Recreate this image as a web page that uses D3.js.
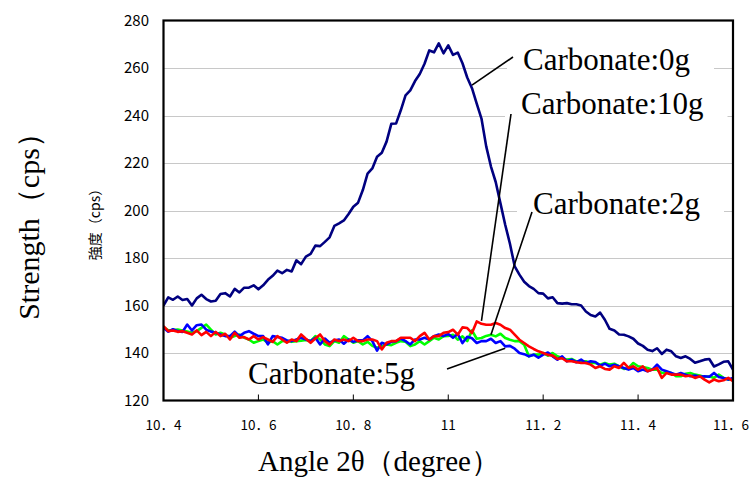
<!DOCTYPE html>
<html>
<head>
<meta charset="utf-8">
<script src="https://cdn.jsdelivr.net/npm/d3@7"></script>
<style>
  html, body { margin: 0; padding: 0; background: #fff; }
  svg { display: block; }
</style>
</head>
<body>
<svg id="chart" width="750" height="477"></svg>
<script>
// Scan: 2θ from 10.40° to 11.60° in 0.01° steps
const angleStart = 10.4;
const angleStep = 0.01;

// Intensity (cps) for each carbonate loading
const carbonate0g = [
  160.0,163.4,162.4,163.8,162.3,162.7,160.0,163.0,164.5,162.7,
  161.7,162.0,164.8,165.2,163.8,167.0,165.5,167.5,167.5,168.5,
  166.8,168.5,170.8,172.5,174.7,173.6,175.0,174.3,179.0,177.4,
  180.6,181.7,185.2,185.0,186.8,188.7,193.5,194.6,195.8,198.5,
  201.6,203.3,208.6,215.5,217.7,222.6,224.3,229.0,236.5,236.6,
  242.2,248.5,250.6,254.5,257.5,261.8,267.4,266.6,270.4,266.2,
  269.5,265.5,266.5,262.0,256.0,251.5,245.0,238.7,227.0,218.5,
  212.0,203.0,194.0,186.0,176.5,173.0,170.0,168.2,167.0,165.2,
  165.0,163.0,163.5,161.0,160.8,161.0,160.5,160.5,160.0,157.5,
  156.0,155.4,157.0,154.0,150.2,149.5,147.8,147.7,147.0,146.0,
  144.0,143.0,141.4,140.8,142.0,139.6,141.4,140.7,138.6,137.9,
  138.6,137.5,135.9,136.5,137.2,137.5,134.3,135.2,136.3,136.5,
  133.0
];

const carbonate2g = [
  150.9,149.5,149.7,149.9,149.5,149.0,148.5,149.2,150.6,152.0,
  149.8,147.8,148.5,147.8,146.4,147.1,147.8,146.4,145.7,144.3,
  145.0,145.7,144.3,145.0,143.6,145.0,145.2,144.7,145.0,145.2,
  145.5,145.0,147.1,145.7,143.6,142.9,145.0,144.3,147.1,145.7,
  144.3,145.0,143.6,144.7,143.0,142.2,142.9,143.6,143.3,144.3,
  145.0,144.7,142.9,143.6,145.0,143.6,145.0,146.4,145.7,147.1,
  147.2,147.7,145.6,147.0,145.0,149.5,146.0,146.3,147.2,147.7,
  147.0,148.1,146.3,145.6,145.0,145.0,143.5,138.6,139.3,139.3,
  140.0,138.9,140.0,138.6,137.9,137.2,137.5,136.5,136.5,136.5,
  135.8,135.8,135.1,135.8,135.1,135.5,134.4,133.3,133.7,135.8,
  134.4,134.1,133.7,133.0,133.0,131.6,131.9,131.6,130.2,130.2,
  131.3,131.6,130.9,130.5,129.9,130.2,129.5,130.9,129.5,128.8,
  129.0
];

const carbonate5g = [
  150.6,149.0,150.0,149.2,148.9,152.0,149.5,151.7,152.0,149.8,
  149.0,148.5,147.8,147.1,147.1,149.0,147.1,148.5,149.2,148.1,
  147.1,147.1,143.6,147.1,146.7,146.4,145.3,145.0,145.7,146.4,
  145.7,145.0,146.4,143.6,146.1,144.3,145.3,145.7,143.9,145.7,
  144.7,145.3,145.3,147.1,145.0,141.0,144.3,143.6,144.7,145.0,
  146.1,145.0,143.6,145.7,145.7,146.4,145.7,147.1,147.8,147.1,
  148.0,146.4,148.0,144.2,146.8,146.2,144.2,145.0,145.0,146.0,
  144.2,145.0,142.8,143.0,141.8,140.0,139.5,138.6,139.3,138.0,
  139.3,140.2,138.6,137.2,138.6,136.5,137.2,136.1,137.2,135.8,
  136.5,136.2,134.7,135.5,134.4,135.1,134.4,133.7,133.0,133.7,
  132.3,133.0,132.3,133.0,135.1,133.0,132.3,131.6,130.9,131.6,
  130.9,130.2,130.5,130.0,130.2,130.0,131.6,129.9,129.5,128.8,
  129.5
];

const carbonate10g = [
  151.3,149.2,149.5,148.9,149.2,148.5,147.8,149.5,147.5,148.9,
  147.1,148.9,147.1,148.1,145.7,148.5,146.4,146.7,145.7,147.1,
  145.7,146.7,145.7,144.7,147.1,145.7,144.3,145.7,145.0,147.8,
  146.0,144.3,146.1,147.8,145.0,143.5,145.7,145.0,145.7,145.0,
  146.4,145.0,145.0,145.7,145.7,145.0,141.5,144.3,145.0,145.0,
  146.4,146.4,146.4,145.0,147.1,148.5,145.7,147.1,147.1,148.5,
  148.8,149.8,147.7,150.8,150.5,148.4,153.3,152.3,151.9,151.9,
  152.6,151.9,150.5,149.8,147.7,145.6,144.2,142.8,141.7,140.7,
  140.0,139.2,138.9,137.5,137.8,136.5,136.5,136.1,135.8,135.8,
  135.1,133.7,134.4,133.3,133.0,134.4,133.7,135.8,133.7,134.4,
  133.0,134.4,132.3,133.0,133.7,129.5,131.6,130.9,130.9,130.9,
  130.2,130.5,129.5,130.2,128.8,127.6,128.8,128.1,128.5,129.5,
  128.1
];

// Axis ticks
const xTicks = [10.4, 10.6, 10.8, 11.0, 11.2, 11.4, 11.6];
const xTickLabels = ["10．4", "10．6", "10．8", "11", "11．2", "11．4", "11．6"];
const yTicks = [120, 140, 160, 180, 200, 220, 240, 260, 280];

// Series, in drawing order (red on top)
const seriesNames = ["Carbonate:0g", "Carbonate:2g", "Carbonate:5g", "Carbonate:10g"];
const seriesValues = [carbonate0g, carbonate2g, carbonate5g, carbonate10g];
const seriesColors = ["#000080", "#00ff00", "#0000ff", "#ff0000"];

// Callout labels: text position and the sample index the leader points at
const callouts = [
  { series: 0, text: "Carbonate:0g",  tx: 523, ty: 70,  idx: 65, lx: 513, ly: 57,  dy: -3 },
  { series: 3, text: "Carbonate:10g", tx: 521, ty: 114, idx: 67, lx: 511, ly: 114, dy: -3 },
  { series: 1, text: "Carbonate:2g",  tx: 533, ty: 214, idx: 69, lx: 532, ly: 212, dy: 0 },
  { series: 2, text: "Carbonate:5g",  tx: 248, ty: 384, idx: 72, lx: 447, ly: 369, dy: 2 }
];

const angles = carbonate0g.map((_, i) => +(angleStart + i * angleStep).toFixed(2));

const svg = d3.select("#chart");
const plot = { left: 163.5, right: 733, top: 20.5, bottom: 400.5 };

const x = d3.scaleLinear().domain([10.4, 11.6]).range([plot.left, plot.right]);
const y = d3.scaleLinear().domain([120, 280]).range([plot.bottom, plot.top]);

svg.append("rect").attr("width", 750).attr("height", 477).attr("fill", "#fff");

// Horizontal gridlines
svg.append("g")
  .selectAll("line")
  .data(yTicks.filter(v => v > 120 && v < 280))
  .join("line")
  .attr("x1", plot.left).attr("x2", plot.right)
  .attr("y1", d => Math.round(y(d)) + 0.5).attr("y2", d => Math.round(y(d)) + 0.5)
  .attr("stroke", "#c8c8c8").attr("stroke-width", 1);

svg.append("clipPath").attr("id", "plotClip")
  .append("rect")
  .attr("x", plot.left).attr("y", plot.top)
  .attr("width", plot.right - plot.left).attr("height", plot.bottom - plot.top);

// White boxes behind callout text
const labelLayer = svg.append("g");

// Data lines
const line = d3.line()
  .x((d, i) => x(angles[i]))
  .y(d => y(d));

svg.append("g").attr("clip-path", "url(#plotClip)")
  .selectAll("path")
  .data(seriesValues)
  .join("path")
  .attr("d", d => line(d))
  .attr("fill", "none")
  .attr("stroke", (d, i) => seriesColors[i])
  .attr("stroke-width", 2.6)
  .attr("stroke-linejoin", "round");

// Plot frame
svg.append("rect")
  .attr("x", plot.left).attr("y", plot.top)
  .attr("width", plot.right - plot.left).attr("height", plot.bottom - plot.top)
  .attr("fill", "none").attr("stroke", "#000").attr("stroke-width", 2.2);

// X axis: inward ticks and labels
const tickFont = "'Noto Sans CJK JP', 'Noto Sans', sans-serif";
svg.append("g")
  .selectAll("line")
  .data(xTicks.slice(1, -1))
  .join("line")
  .attr("x1", d => x(d)).attr("x2", d => x(d))
  .attr("y1", plot.bottom).attr("y2", plot.bottom - 6)
  .attr("stroke", "#000").attr("stroke-width", 1);

svg.append("g")
  .selectAll("text")
  .data(xTicks)
  .join("text")
  .attr("x", (d, i) => i === xTicks.length - 1 ? 749 : x(d))
  .attr("y", 430)
  .attr("text-anchor", (d, i) => i === xTicks.length - 1 ? "end" : "middle")
  .attr("font-family", tickFont)
  .attr("font-size", 13.5)
  .attr("fill", "#000")
  .text((d, i) => xTickLabels[i]);

// Y axis labels
svg.append("g")
  .selectAll("text")
  .data(yTicks)
  .join("text")
  .attr("x", 149)
  .attr("y", d => y(d))
  .attr("dy", "0.36em")
  .attr("text-anchor", "end")
  .attr("font-family", tickFont)
  .attr("font-size", 15)
  .attr("fill", "#000")
  .text(d => d);

// Axis titles
const serif = "'Liberation Serif', 'Times New Roman', serif";
svg.append("text")
  .attr("transform", "translate(39,219) rotate(-90)")
  .attr("text-anchor", "middle")
  .attr("font-family", serif)
  .attr("font-size", 30)
  .attr("fill", "#000")
  .text("Strength（cps）");

svg.append("text")
  .attr("transform", "translate(100,221) rotate(-90)")
  .attr("text-anchor", "middle")
  .attr("font-family", tickFont)
  .attr("font-size", 14)
  .attr("fill", "#000")
  .text("強度（cps）");

svg.append("text")
  .attr("x", 379)
  .attr("y", 471)
  .attr("text-anchor", "middle")
  .attr("font-family", serif)
  .attr("font-size", 29)
  .attr("fill", "#000")
  .text("Angle 2θ（degree）");

// Callouts: white box, text, leader line to the data point
callouts.forEach(c => {
  const t = svg.append("text")
    .attr("x", c.tx).attr("y", c.ty)
    .attr("font-family", serif)
    .attr("font-size", 31)
    .attr("fill", "#000")
    .text(c.text);
  const bb = t.node().getBBox();
  labelLayer.append("rect")
    .attr("x", bb.x - 16).attr("y", bb.y + 2)
    .attr("width", bb.width + 40).attr("height", bb.height - 2)
    .attr("fill", "#fff");
  const vals = seriesValues[c.series];
  svg.append("line")
    .attr("x1", c.lx).attr("y1", c.ly)
    .attr("x2", x(angles[c.idx])).attr("y2", y(vals[c.idx]) + c.dy)
    .attr("stroke", "#000").attr("stroke-width", 1.6);
});
</script>
</body>
</html>
